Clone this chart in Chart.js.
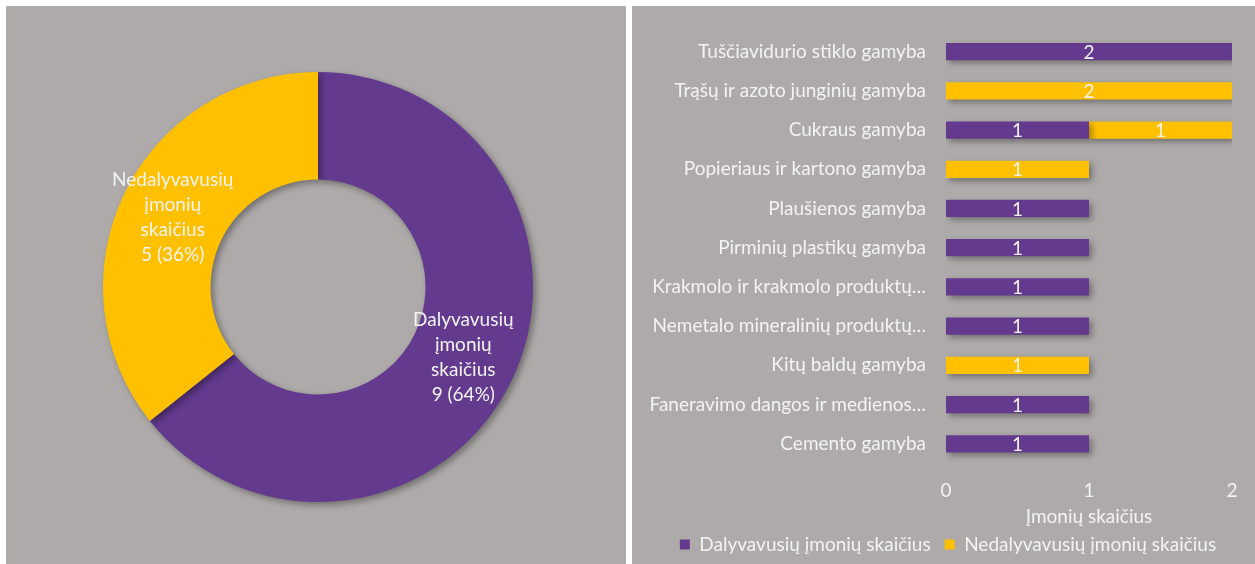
<!DOCTYPE html>
<html lang="lt">
<head>
<meta charset="utf-8">
<title>Įmonių skaičius</title>
<script src="https://cdn.jsdelivr.net/npm/chart.js@4.4.1/dist/chart.umd.min.js"></script>
<style>
    html, body { margin: 0; padding: 0; background: #ffffff; }
    .panel { position: absolute; background: #aeaaaa; }
    #leftPanel { left: 6px; top: 6px; width: 620px; height: 558px; }
    #rightPanel { left: 632px; top: 6px; width: 623px; height: 558px; }
</style>
</head>
<body>
<div class="panel" id="leftPanel"><canvas id="donutChart" width="620" height="558"></canvas></div>
<div class="panel" id="rightPanel"><canvas id="barChart" width="623" height="558"></canvas></div>

<script>
// Chart data
var donutLabels = ['Dalyvavusių įmonių skaičius', 'Nedalyvavusių įmonių skaičius'];
var donutValues = [9, 5];

var sectors = [
    'Tuščiavidurio stiklo gamyba',
    'Trąšų ir azoto junginių gamyba',
    'Cukraus gamyba',
    'Popieriaus ir kartono gamyba',
    'Plaušienos gamyba',
    'Pirminių plastikų gamyba',
    'Krakmolo ir krakmolo produktų…',
    'Nemetalo mineralinių produktų…',
    'Kitų baldų gamyba',
    'Faneravimo dangos ir medienos…',
    'Cemento gamyba'
];
var participated = [2, 0, 1, 0, 1, 1, 1, 1, 0, 1, 1];
var notParticipated = [0, 2, 1, 1, 0, 0, 0, 0, 1, 0, 0];
var xTicks = [0, 1, 2];
var xAxisTitle = 'Įmonių skaičius';

var PURPLE = '#633a8e';
var YELLOW = '#ffc000';
var TEXT = '#f3f3f3';
var FONT = 'Lato';
var SIZE = 19;

// Soft drop shadow under the marks
var shadowPlugin = {
    id: 'shadow',
    beforeDatasetsDraw: function(chart) {
        var ctx = chart.ctx;
        ctx.save();
        ctx.shadowColor = 'rgba(0, 0, 0, 0.35)';
        ctx.shadowBlur = 6;
        ctx.shadowOffsetX = 3;
        ctx.shadowOffsetY = 3;
    },
    afterDatasetsDraw: function(chart) {
        chart.ctx.restore();
    }
};

// Labels in the donut ring: name split by words, then value and share
var donutLabelPlugin = {
    id: 'donutLabels',
    afterDatasetsDraw: function(chart) {
        var ctx = chart.ctx;
        var meta = chart.getDatasetMeta(0);
        var total = donutValues.reduce(function(a, b) { return a + b; }, 0);
        ctx.save();
        ctx.font = SIZE + 'px ' + FONT;
        ctx.fillStyle = TEXT;
        ctx.textAlign = 'center';
        ctx.textBaseline = 'middle';
        meta.data.forEach(function(arc, i) {
            var pos = arc.getCenterPoint();
            var pct = Math.round(donutValues[i] / total * 100);
            var lines = donutLabels[i].split(' ').concat([donutValues[i] + ' (' + pct + '%)']);
            var lineHeight = 25;
            var startY = pos.y - (lines.length - 1) * lineHeight / 2;
            lines.forEach(function(line, j) {
                ctx.fillText(line, pos.x, startY + j * lineHeight);
            });
        });
        ctx.restore();
    }
};

// Value labels in the middle of each bar segment
var barLabelPlugin = {
    id: 'barLabels',
    afterDatasetsDraw: function(chart) {
        var ctx = chart.ctx;
        ctx.save();
        ctx.font = SIZE + 'px ' + FONT;
        ctx.fillStyle = TEXT;
        ctx.textAlign = 'center';
        ctx.textBaseline = 'middle';
        chart.data.datasets.forEach(function(ds, i) {
            var meta = chart.getDatasetMeta(i);
            meta.data.forEach(function(bar, j) {
                if (!ds.data[j]) return;
                var c = bar.getCenterPoint();
                ctx.fillText(ds.data[j], c.x, c.y + 1);
            });
        });
        ctx.restore();
    }
};

// Legend sits centred under the plot area rather than the whole canvas
var legendShiftPlugin = {
    id: 'legendShift',
    afterLayout: function(chart) {
        if (chart.legend) {
            chart.legend.left += 16;
            chart.legend.right += 16;
        }
    }
};

new Chart(document.getElementById('donutChart'), {
    type: 'doughnut',
    data: {
        labels: donutLabels,
        datasets: [{
            data: donutValues,
            backgroundColor: [PURPLE, YELLOW],
            borderWidth: 0
        }]
    },
    options: {
        responsive: false,
        animation: false,
        cutout: '50%',
        layout: { padding: { left: 97, right: 93, top: 66, bottom: 62 } },
        plugins: {
            legend: { display: false },
            tooltip: { enabled: false }
        }
    },
    plugins: [shadowPlugin, donutLabelPlugin]
});

new Chart(document.getElementById('barChart'), {
    type: 'bar',
    data: {
        labels: sectors,
        datasets: [{
            label: 'Dalyvavusių įmonių skaičius',
            data: participated,
            backgroundColor: PURPLE,
            barPercentage: 0.88,
            categoryPercentage: 0.5
        }, {
            label: 'Nedalyvavusių įmonių skaičius',
            data: notParticipated,
            backgroundColor: YELLOW,
            barPercentage: 0.88,
            categoryPercentage: 0.5
        }]
    },
    options: {
        indexAxis: 'y',
        responsive: false,
        animation: false,
        layout: { padding: { left: 0, right: 23, top: 26, bottom: 0 } },
        scales: {
            x: {
                stacked: true,
                min: xTicks[0],
                max: xTicks[xTicks.length - 1],
                ticks: { stepSize: 1, color: TEXT, font: { family: FONT, size: SIZE }, padding: 16 },
                grid: { display: false, drawTicks: false },
                border: { display: false },
                title: { display: true, text: xAxisTitle, color: TEXT, font: { family: FONT, size: SIZE }, padding: { top: -13, bottom: -7 } }
            },
            y: {
                stacked: true,
                ticks: { color: TEXT, font: { family: FONT, size: SIZE }, padding: 20 },
                grid: { display: false, drawTicks: false },
                border: { display: false },
                afterFit: function(scale) {
                    scale.width = 314;
                    scale.paddingTop = 0;
                    scale.paddingBottom = 0;
                }
            }
        },
        plugins: {
            legend: {
                position: 'bottom',
                labels: { boxWidth: 10, boxHeight: 10, color: TEXT, font: { family: FONT, size: SIZE }, padding: 14 }
            },
            tooltip: { enabled: false }
        }
    },
    plugins: [shadowPlugin, barLabelPlugin, legendShiftPlugin]
});
</script>
</body>
</html>
